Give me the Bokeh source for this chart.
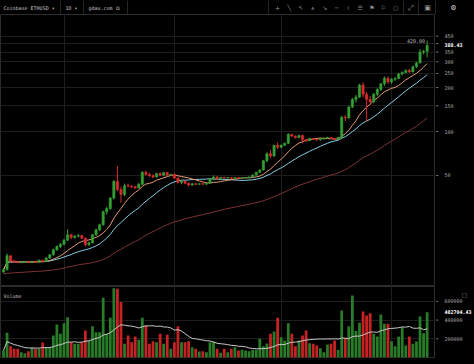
import numpy as np
import pandas as pd
from bokeh.plotting import figure
from bokeh.layouts import column, row
from bokeh.models import ColumnDataSource, Range1d, FixedTicker, Label
from bokeh.core.properties import value
from bokeh.embed import file_html
from bokeh.resources import INLINE

# ---------------- data (Coinbase ETHUSD, daily) ----------------
start_date = "2017-02-12"
month_starts = ["2017-03-01", "2017-04-01", "2017-05-01", "2017-06-01"]

opens = [10.9, 11.3, 14.1, 13.0, 12.8, 12.7, 12.8, 12.9, 12.7, 12.9,
         12.7, 13.1, 12.9, 13.6, 14.3, 15.5, 16.3, 16.9, 18.0, 19.6,
         18.8, 19.2, 19.4, 18.6, 16.8, 17.3, 19.6, 21.2, 23.0, 28.2,
         29.7, 35.0, 45.5, 40.0, 37.0, 42.5, 42.2, 41.8, 41.0, 43.5,
         52.5, 50.8, 49.8, 48.8, 51.5, 50.2, 52.3, 50.3, 50.8, 48.0,
         44.8, 45.8, 44.2, 43.0, 43.8, 43.5, 43.9, 43.6, 44.2, 47.5,
         48.8, 47.2, 48.5, 48.0, 48.4, 47.8, 48.3, 47.9, 48.2, 48.4,
         48.9, 50.3, 52.5, 54.5, 63.0, 70.5, 68.0, 80.5, 78.0, 80.5,
         83.0, 95.5, 93.0, 91.0, 94.0, 88.0, 86.5, 89.5, 88.5, 87.5,
         89.0, 90.0, 91.0, 89.5, 88.5, 91.0, 125.0, 124.0, 147.0, 166.0,
         172.0, 208.0, 180.0, 166.0, 160.0, 180.0, 194.0, 212.0, 232.0, 218.0,
         228.0, 231.0, 248.0, 254.0, 262.0, 256.0, 278.0, 295.0, 350.0, 354.0]

highs = [11.5, 14.6, 14.2, 13.2, 13.0, 12.9, 13.0, 13.0, 13.0, 13.0,
         13.3, 13.3, 13.8, 14.5, 15.8, 16.6, 17.2, 18.4, 21.4, 19.9,
         19.5, 19.8, 19.6, 18.8, 17.6, 19.9, 21.6, 23.4, 28.8, 30.5,
         35.5, 46.5, 58.0, 42.0, 44.0, 44.0, 43.0, 42.5, 44.5, 53.5,
         54.0, 52.0, 51.0, 52.0, 52.5, 53.0, 53.0, 51.5, 51.5, 48.5,
         46.5, 46.0, 44.8, 44.5, 44.5, 44.2, 44.3, 44.5, 48.0, 50.0,
         49.5, 48.8, 49.0, 48.7, 48.8, 48.6, 48.8, 48.5, 48.6, 49.2,
         50.8, 53.0, 55.0, 64.0, 72.0, 74.5, 81.0, 84.0, 81.5, 84.0,
         97.6, 96.5, 94.0, 95.0, 94.5, 89.0, 90.5, 90.0, 89.0, 89.8,
         90.8, 92.0, 91.5, 90.0, 92.0, 128.0, 130.0, 150.0, 170.0, 178.0,
         212.0, 217.0, 186.0, 175.0, 184.0, 198.0, 215.0, 238.0, 238.0, 232.0,
         236.0, 252.0, 258.0, 266.0, 268.0, 282.0, 300.0, 366.0, 362.0, 420.0]

lows = [10.8, 11.2, 12.8, 12.6, 12.5, 12.5, 12.6, 12.6, 12.6, 12.6,
        12.6, 12.7, 12.8, 13.4, 14.1, 15.2, 15.9, 16.6, 17.8, 18.3,
        18.5, 18.9, 18.4, 16.3, 16.5, 17.1, 19.3, 20.8, 22.6, 27.0,
        29.0, 34.2, 39.0, 32.5, 36.0, 41.5, 41.0, 40.5, 40.8, 43.0,
        50.0, 49.0, 48.0, 48.5, 49.5, 49.8, 49.5, 49.5, 47.5, 44.0,
        43.5, 43.5, 42.0, 42.5, 42.8, 43.0, 43.2, 43.2, 44.0, 46.5,
        46.8, 46.8, 47.5, 47.6, 47.4, 47.5, 47.6, 47.6, 47.7, 47.9,
        48.5, 50.0, 52.0, 54.0, 61.5, 66.0, 67.0, 76.0, 77.0, 79.5,
        82.0, 92.0, 89.5, 90.0, 83.0, 85.0, 86.0, 87.5, 86.5, 87.0,
        88.0, 89.0, 88.5, 87.5, 88.0, 90.0, 118.0, 122.0, 145.0, 158.0,
        170.0, 172.0, 117.0, 152.0, 156.0, 175.0, 190.0, 205.0, 212.0, 212.0,
        222.0, 228.0, 242.0, 250.0, 252.0, 254.0, 272.0, 292.0, 338.0, 322.0]

closes = [11.3, 14.1, 13.0, 12.8, 12.7, 12.8, 12.9, 12.7, 12.9, 12.7,
          13.1, 12.9, 13.6, 14.3, 15.5, 16.3, 16.9, 18.0, 19.6, 18.8,
          19.2, 19.4, 18.6, 16.8, 17.3, 19.6, 21.2, 23.0, 28.2, 29.7,
          35.0, 45.5, 40.0, 37.0, 42.5, 42.2, 41.8, 41.0, 43.5, 52.5,
          50.8, 49.8, 48.8, 51.5, 50.2, 52.3, 50.3, 50.8, 48.0, 44.8,
          45.8, 44.2, 43.0, 43.8, 43.5, 43.9, 43.6, 44.2, 47.5, 48.8,
          47.2, 48.5, 48.0, 48.4, 47.8, 48.3, 47.9, 48.2, 48.4, 48.9,
          50.3, 52.5, 54.5, 63.0, 70.5, 68.0, 80.5, 78.0, 80.5, 83.0,
          95.5, 93.0, 91.0, 94.0, 88.0, 86.5, 89.5, 88.5, 87.5, 89.0,
          90.0, 91.0, 89.5, 88.5, 91.0, 125.0, 124.0, 147.0, 166.0, 172.0,
          208.0, 180.0, 166.0, 160.0, 180.0, 194.0, 212.0, 232.0, 218.0, 228.0,
          231.0, 248.0, 254.0, 262.0, 256.0, 278.0, 295.0, 350.0, 354.0, 388.43]

volumes = [75000, 264000, 121000, 93000, 93000, 57000, 46000, 68000, 103000, 93000,
           93000, 160000, 110000, 110000, 235000, 353000, 253000, 367000, 431000, 164000,
           146000, 146000, 164000, 289000, 182000, 335000, 271000, 271000, 638000, 253000,
           424000, 740000, 735000, 592000, 146000, 235000, 164000, 225000, 189000, 424000,
           342000, 146000, 175000, 164000, 253000, 146000, 242000, 93000, 164000, 335000,
           164000, 164000, 175000, 110000, 93000, 64000, 68000, 57000, 164000, 171000,
           93000, 50000, 93000, 57000, 93000, 110000, 75000, 82000, 75000, 68000,
           82000, 82000, 200000, 120000, 150000, 253000, 278000, 424000, 217000, 182000,
           367000, 253000, 121000, 182000, 235000, 289000, 153000, 146000, 128000, 100000,
           57000, 139000, 146000, 182000, 80000, 503000, 210000, 335000, 663000, 282000,
           371000, 492000, 449000, 474000, 253000, 225000, 460000, 360000, 360000, 175000,
           121000, 225000, 324000, 128000, 225000, 146000, 171000, 438000, 260000, 482704.43]

price_ticks = [50, 100, 150, 200, 250, 300, 350, 400, 450]
price_tick_labels = ["50", "100", "150", "200", "250", "300", "350", "", "450"]
volume_ticks = [200000, 400000, 600000]
volume_tick_labels = ["200000", "400000", "600000"]
ema_long_start = 10.6   # value of the long EMA at the first visible bar

# ---------------- derived series ----------------
n = len(closes)
idx = np.arange(n)
dates = pd.date_range(start_date, periods=n, freq="D")
month_idx = [int(dates.get_loc(pd.Timestamp(d))) for d in month_starts]

cs = pd.Series(closes)
sma10 = cs.rolling(10, min_periods=1).mean().values
sma20 = cs.rolling(20, min_periods=1).mean().values
alpha = 2.0 / 101.0
ema100 = []
e = ema_long_start
for c in closes:
    e = e + alpha * (c - e)
    ema100.append(e)
vol_ma = pd.Series(volumes).rolling(20, min_periods=1).mean().values

GREEN = "#34a034"
RED = "#dc2a2e"
VGREEN = "#287c28"
VRED = "#c62224"
up = [c >= o for o, c in zip(opens, closes)]
src = ColumnDataSource(dict(
    x=idx, h=highs, l=lows,
    top=np.maximum(opens, closes), bottom=np.minimum(opens, closes),
    color=[GREEN if u else RED for u in up],
    vcolor=[VGREEN if u else VRED for u in up],
    v=volumes, sma10=sma10, sma20=sma20, ema100=ema100, vma=vol_ma))

BG = "#000000"
GRID = "#1e1e1e"
FRAME = "#2c2c2c"
TXT = "#a9a9a9"
FONT = "DejaVu Sans Mono"
FS = "5px"
MAIN_W = 435
AXIS_W = 39

xr = Range1d(-0.84, 121.35)
axr = Range1d(0, AXIS_W)


def style(fig):
    fig.background_fill_color = BG
    fig.border_fill_color = BG
    fig.min_border_left = 0
    fig.min_border_right = 0
    fig.min_border_top = 0


# ---------------- top bar ----------------
tb = figure(width=474, height=14, x_range=Range1d(0, 474), y_range=Range1d(0, 14),
            toolbar_location=None, output_backend="svg",
            x_axis_location=None, y_axis_location=None, min_border_bottom=0)
style(tb)
tb.outline_line_color = None
tb.grid.visible = False
bar_texts = ["Coinbase ETHUSD \u25be", "1D \u25be", "gdax.com \u29c9"]
bar_text_x = [3, 65, 88]
tb.text(x=bar_text_x, y=[7] * 3, text=bar_texts, text_font=value(FONT), text_font_size=FS,
        text_color="#c4c4c4", text_baseline="middle", text_align="left")
sep_x = [60, 83, 127, 268, 403, 418, 435]
tb.segment(x0=sep_x, y0=[0] * len(sep_x), x1=sep_x, y1=[14] * len(sep_x), line_color="#262626", line_width=1)
icons = ["+", "\u2572", "\u2196", "\u2a5a", "\u2198", "\u2500", "\u205e", "\u2630", "\u2691", "\u2690", "\u25cb"]
icon_x = [277 + 11.8 * k for k in range(len(icons))]
tb.text(x=icon_x, y=[7] * len(icons), text=icons, text_font=value("DejaVu Sans"), text_font_size="6px",
        text_color="#9a9a9a", text_baseline="middle", text_align="center")
tb.text(x=[410, 427, 453], y=[7] * 3, text=["\u2922", "\u25a3", "\u2699"], text_font=value("DejaVu Sans"),
        text_font_size="7px", text_color=["#9a9a9a", "#9a9a9a", "#d8d8d8"], text_baseline="middle", text_align="center")

# ---------------- price pane ----------------
pyr = Range1d(8.68, 633)
p = figure(width=MAIN_W, height=272, x_range=xr, y_range=pyr,
           y_axis_type="log", y_axis_location=None, x_axis_location=None,
           toolbar_location=None, output_backend="svg", min_border_bottom=0)
style(p)
p.outline_line_color = FRAME
p.xgrid.ticker = FixedTicker(ticks=month_idx)
p.ygrid.ticker = FixedTicker(ticks=price_ticks)
p.grid.grid_line_color = GRID

p.line("x", "ema100", source=src, line_color="#7e3434", line_width=1)
p.line("x", "sma20", source=src, line_color="#86cfe2", line_width=1)
p.line("x", "sma10", source=src, line_color="#e59c74", line_width=1)
p.segment(x0="x", y0="l", x1="x", y1="h", source=src, line_color="color", line_width=1)
p.vbar(x="x", width=0.62, top="top", bottom="bottom", source=src,
       fill_color="color", line_color="color", line_width=0.6)

imax = int(np.argmax(highs))
p.add_layout(Label(x=imax, y=highs[imax], text=f"{highs[imax]:.2f}", x_offset=-2,
                   text_align="right", text_baseline="middle", text_font=FONT,
                   text_font_size=FS, text_color="#bdbdbd"))

# price scale (right)
pa = figure(width=AXIS_W, height=272, x_range=axr, y_range=pyr, y_axis_type="log",
            x_axis_location=None, y_axis_location=None, toolbar_location=None,
            output_backend="svg", min_border_bottom=0)
style(pa)
pa.outline_line_color = None
pa.grid.visible = False
pa.segment(x0=[0] * len(price_ticks), y0=price_ticks, x1=[3] * len(price_ticks), y1=price_ticks,
           line_color="#6a6a6a", line_width=1)
pa.text(x=[9] * len(price_ticks), y=price_ticks, text=price_tick_labels, text_font=value(FONT),
        text_font_size=FS, text_color=TXT, text_baseline="middle", text_align="left")
pa.text(x=[9], y=[closes[-1]], text=[f"{closes[-1]:.2f}"], text_font=value(FONT),
        text_font_size=FS, text_font_style="bold", text_color="#ffffff",
        text_baseline="middle", text_align="left")

# ---------------- volume pane ----------------
vyr = Range1d(0, 759000)
q = figure(width=MAIN_W, height=78, x_range=xr, y_range=vyr,
           y_axis_location=None, x_axis_location=None,
           toolbar_location=None, output_backend="svg", min_border_bottom=7)
style(q)
q.outline_line_color = FRAME
q.xgrid.ticker = FixedTicker(ticks=month_idx)
q.ygrid.ticker = FixedTicker(ticks=volume_ticks)
q.grid.grid_line_color = GRID
q.vbar(x="x", width=0.78, top="v", bottom=0, source=src, fill_color="vcolor", line_color=None)
q.line("x", "vma", source=src, line_color="#c8c8c8", line_width=1)
q.add_layout(Label(x=3, x_units="screen", y=62, y_units="screen", text="Volume",
                   text_align="left", text_baseline="middle", text_font=FONT,
                   text_font_size=FS, text_color="#bdbdbd"))

qa = figure(width=AXIS_W, height=78, x_range=axr, y_range=vyr,
            x_axis_location=None, y_axis_location=None, toolbar_location=None,
            output_backend="svg", min_border_bottom=7)
style(qa)
qa.outline_line_color = None
qa.grid.visible = False
qa.segment(x0=[0] * len(volume_ticks), y0=volume_ticks, x1=[3] * len(volume_ticks), y1=volume_ticks,
           line_color="#6a6a6a", line_width=1)
qa.text(x=[9] * len(volume_ticks), y=volume_ticks, text=volume_tick_labels, text_font=value(FONT),
        text_font_size=FS, text_color=TXT, text_baseline="middle", text_align="left")
qa.text(x=[9], y=[volumes[-1]], text=[f"{volumes[-1]:.2f}"], text_font=value(FONT),
        text_font_size=FS, text_font_style="bold", text_color="#ffffff",
        text_baseline="middle", text_align="left")
qa.add_layout(Label(x=29, x_units="screen", y=63, y_units="screen", text="\u25a1",
                    text_align="center", text_baseline="middle", text_font="DejaVu Sans",
                    text_font_size="6px", text_color="#8a8a8a"))

layout = column(tb, row(p, pa, spacing=0), row(q, qa, spacing=0), spacing=0)
html = file_html(layout, INLINE, "Coinbase ETHUSD")
html = html.replace("<body>", "<body style=\"margin:0;background:#000\">")
open("out.html", "w").write(html)
